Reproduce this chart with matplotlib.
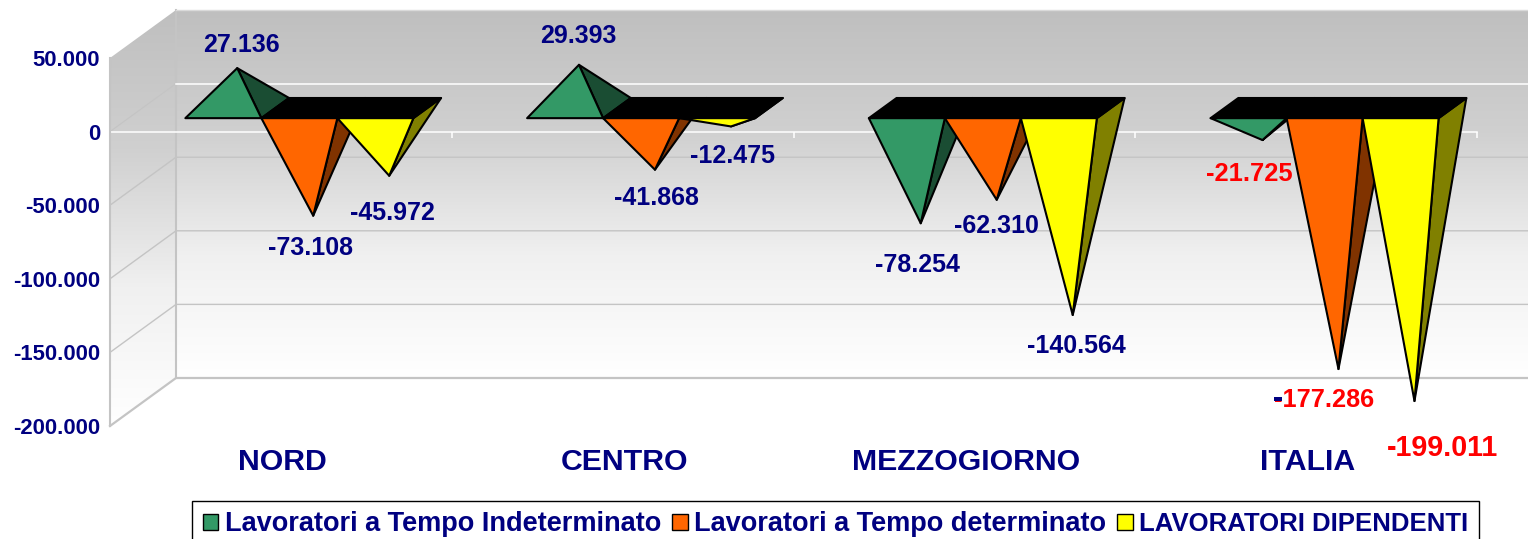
import numpy as np
import matplotlib
matplotlib.use("Agg")
import matplotlib.pyplot as plt
from matplotlib.patches import Polygon, Patch, Rectangle
from matplotlib.ticker import FuncFormatter
from matplotlib.colors import LinearSegmentedColormap
from matplotlib.transforms import IdentityTransform

# ---- data ----
categories = ["NORD", "CENTRO", "MEZZOGIORNO", "ITALIA"]
series_names = ["Lavoratori a Tempo Indeterminato",
                "Lavoratori a Tempo determinato",
                "LAVORATORI DIPENDENTI"]
indeterminato = [27136, 29393, -78254, -21725]
determinato = [-73108, -41868, -62310, -177286]
dipendenti = [-45972, -12475, -140564, -199011]
y_ticks = [50000, 0, -50000, -100000, -150000, -200000]

# ---- style ----
series_values = [indeterminato, determinato, dipendenti]
front_colors = ["#339966", "#FF6600", "#FFFF00"]
side_colors = ["#1A4D33", "#803300", "#808000"]
NAVY = "#000080"
RED = "#FF0000"
GRID = "#C4C4C4"
FONT = "Liberation Sans"

W, H = 1528, 539
CAT_PX = 341.75          # pixels per category
X0_PX = 110.0            # category 0 left edge, front plane
Y0_PX = 131.6            # zero line, front plane
PX_PER_UNIT = 368.0 / 250000.0
DEPTH_X = 66.0 / CAT_PX  # wall depth in data units
DEPTH_Y = 48.0 / PX_PER_UNIT
BAR_W = 76.0 / CAT_PX
D0, D1, DA = 0.28, 0.70, 0.49  # base front, base back, apex depth

# label offset from apex, in pixels (dx right, dy down), per category/series
label_offsets = [
    [(4.6, -23.5), (-3, 32.5), (3, 37.5)],
    [(-0.6, -28.5), (1.4, 28.5), (1.4, 30)],
    [(-3.4, 41.5), (-0.4, 26.5), (3.6, 31.5)],
    [(-13, 33.5), (-14, 30.5), (28, 46.5)],
]
label_sizes = [[18] * 3, [18] * 3, [18] * 3, [18.4, 18.3, 20.6]]
label_colors = [[NAVY] * 3, [NAVY] * 3, [NAVY] * 3, [RED] * 3]


def project(x, v, depth=0.0):
    return (x + depth * DEPTH_X, v + depth * DEPTH_Y)


fig = plt.figure(figsize=(W / 100, H / 100), dpi=100, facecolor="white")
ax = fig.add_axes([0, 0, 1, 1])
ax.set_facecolor("none")
xlim = (-X0_PX / CAT_PX, (W - X0_PX) / CAT_PX)
ylim = ((Y0_PX - H) / PX_PER_UNIT, Y0_PX / PX_PER_UNIT)

v_top, v_bot = y_ticks[0], y_ticks[-1]
n = len(categories)

# ---- walls with vertical gradient ----
cmap = LinearSegmentedColormap.from_list("wall", ["#BFBFBF", "#D0D0D0", "#F0F0F0", "#FFFFFF"])
grad = np.linspace(0, 1, 256)[:, None]

back_poly = Polygon([project(0, v_top, 1), project(n + 1, v_top, 1),
                     project(n + 1, v_bot, 1), project(0, v_bot, 1)],
                    transform=ax.transData, fc="none", ec="none")
side_poly = Polygon([project(0, v_top), project(0, v_top, 1),
                     project(0, v_bot, 1), project(0, v_bot)],
                    transform=ax.transData, fc="none", ec="none")
ax.add_patch(back_poly)
ax.add_patch(side_poly)
im = ax.imshow(grad, cmap=cmap, aspect="auto", interpolation="bilinear", zorder=0,
               extent=(xlim[0], xlim[1], project(0, v_bot, 1)[1], project(0, v_top, 1)[1]))
im.set_clip_path(back_poly)
im2 = ax.imshow(grad, cmap=cmap, aspect="auto", interpolation="bilinear", zorder=0,
                extent=(xlim[0], xlim[1], project(0, v_bot)[1], project(0, v_top, 1)[1]))
im2.set_clip_path(side_poly)

# ---- gridlines on the walls ----
for t in y_ticks[2:-1]:
    xs, ys = zip(project(0, t), project(0, t, 1), project(n + 1, t, 1))
    ax.plot(xs, ys, color=GRID, lw=1.0, zorder=1)
xs, ys = zip(project(0, 0), project(0, 0, 1))
ax.plot(xs, ys, color=GRID, lw=0.8, zorder=1)
xs, ys = zip(project(0, 0, 1), project(n + 1, 0, 1))
ax.plot(xs, ys, color="white", lw=1.1, zorder=1.2)
# wall edges
xs, ys = zip(project(0, v_top, 1), project(0, v_bot, 1))
ax.plot(xs, ys, color=GRID, lw=1.5, zorder=1.1)
xs, ys = zip(project(0, v_bot), project(0, v_bot, 1), project(n + 1, v_bot, 1))
ax.plot(xs, ys, color=GRID, lw=1.6, zorder=1.1)
xs, ys = zip(project(0, v_top, 1), project(n + 1, v_top, 1))
ax.plot(xs, ys, color="#DADADA", lw=1.0, zorder=1.1)

# ---- zero line and category ticks on the front plane ----
ax.plot([0, n], [0, 0], color="white", lw=1.1, zorder=1.3)
ax.vlines(np.arange(n + 1), -6 / PX_PER_UNIT, 0, color="white", lw=1.1, zorder=1.3)

# ---- pyramids ----
z = 2.0
offs = [-1.5, -0.5, 0.5]
apexes = {}
for i in range(n):
    for j, vals in enumerate(series_values):
        v = vals[i]
        xl = i + 0.5 + offs[j] * BAR_W
        xr = xl + BAR_W
        fl, fr = project(xl, 0, D0), project(xr, 0, D0)
        bl, br = project(xl, 0, D1), project(xr, 0, D1)
        apex = project((xl + xr) / 2, v, DA)
        apexes[(i, j)] = apex
        style = dict(ec="black", lw=1.5, joinstyle="round")
        ax.add_patch(Polygon([fr, br, apex], fc=side_colors[j], zorder=z, **style))
        if v < 0:
            ax.add_patch(Polygon([fl, fr, br, bl], fc="black", zorder=z + 0.01, **style))
        ax.add_patch(Polygon([fl, fr, apex], fc=front_colors[j], zorder=z + 0.02, **style))
        z += 0.1

# ---- axes ----
ax.set_xlim(*xlim)
ax.set_ylim(*ylim)
for s in ("top", "right", "bottom"):
    ax.spines[s].set_visible(False)
ax.spines["left"].set_position(("data", 0))
ax.spines["left"].set_bounds(v_bot, v_top)
ax.spines["left"].set_color(GRID)
ax.spines["left"].set_linewidth(1.5)
ax.spines["bottom"].set_position(("data", v_bot))
ax.set_yticks(y_ticks)
ax.yaxis.set_major_formatter(FuncFormatter(lambda v, _: f"{v:,.0f}".replace(",", ".")))
ax.tick_params(axis="y", length=0, pad=7, labelcolor=NAVY, labelsize=15.9)
ax.set_xticks(np.arange(n) + 0.5 + 2 / CAT_PX)
ax.set_xticklabels(categories)
ax.tick_params(axis="x", length=0, pad=15.5, labelcolor=NAVY, labelsize=21.8)
for lab in ax.get_yticklabels() + ax.get_xticklabels():
    lab.set_family(FONT)
    lab.set_weight("bold")

# ---- value labels ----
fig.canvas.draw()
for (i, j), apex in apexes.items():
    v = series_values[j][i]
    txt = f"{v:,.0f}".replace(",", ".")
    dx, dy = label_offsets[i][j]
    t1 = ax.annotate(txt, xy=apex, xycoords="data", xytext=(dx, -dy), textcoords="offset pixels",
                     ha="center", va="center", color=label_colors[i][j], family=FONT,
                     weight="bold", fontsize=label_sizes[i][j], zorder=10, annotation_clip=False)
    if txt == "-177.286":
        # the minus sign of this one label is navy in the source: repaint the glyph in place
        bb = t1.get_window_extent()
        em = label_sizes[i][j] * 100 / 72
        ax.add_patch(Rectangle((bb.x0 - 0.5, bb.y0 + 0.41 * em), 0.31 * em, 0.15 * em,
                               transform=IdentityTransform(), fc=NAVY, ec="none", zorder=11))

# ---- legend ----
handles = [Patch(fc=c, ec="black", lw=1.0) for c in front_colors]
leg = ax.legend(handles, series_names, ncols=3, loc="upper left",
                bbox_to_anchor=(192 / W, 1 - 500.5 / H), bbox_transform=fig.transFigure,
                borderaxespad=0, borderpad=0.4, handlelength=0.57, handleheight=0.55,
                handletextpad=0.25, columnspacing=0.4, fancybox=False, framealpha=1,
                edgecolor="black", labelcolor=NAVY,
                prop=dict(family=FONT, weight="bold", size=19.5))
leg.get_texts()[2].set_fontsize(18.5)
leg.get_frame().set_linewidth(1.0)
leg.set_zorder(20)

fig.savefig("out.png", dpi=100, facecolor="white")
